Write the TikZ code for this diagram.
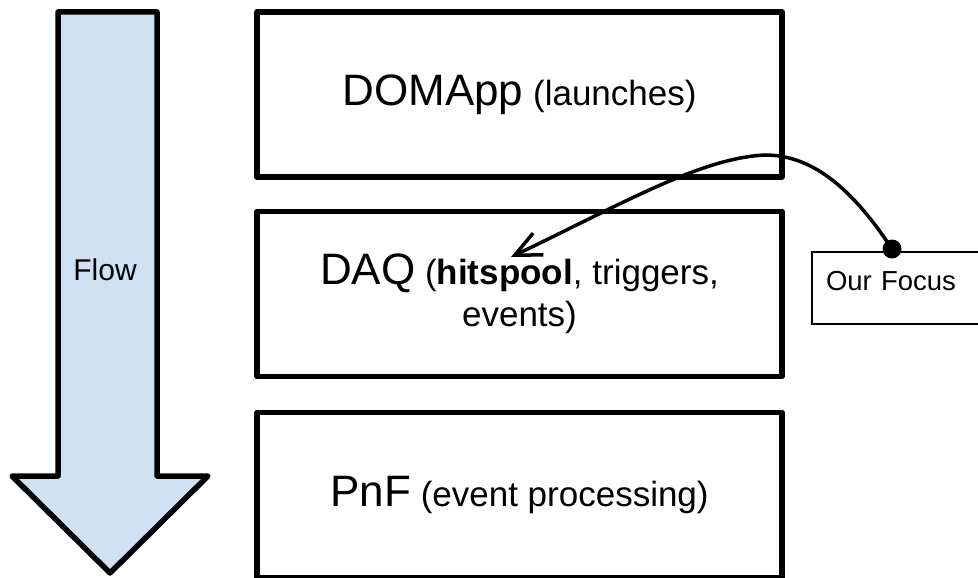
\documentclass[tikz,border=0pt]{standalone}
\usepackage{fontspec}
\setmainfont{Liberation Sans}
\usetikzlibrary{arrows.meta}
\definecolor{flowblue}{HTML}{CFE2F3}
\newcommand\stagename[1]{{\fontsize{44}{42}\selectfont #1}}
\begin{document}
\begin{tikzpicture}[x=1pt,y=-1pt,
  stage/.style={draw=black, line width=5.5pt, line join=round,
    minimum width=525pt, minimum height=165pt, inner sep=0pt,
    align=center, font=\fontsize{35}{42}\selectfont},
  note/.style={draw=black, line width=2pt, anchor=west,
    minimum width=168pt, minimum height=72pt, inner xsep=14pt,
    text width=140pt, text depth=14pt, align=left,
    font=\fontsize{27.5}{30}\selectfont},
  pointer/.style={line width=3.5pt, -{Straight Barb[length=26pt,width=24pt,line width=3.5pt]}}]
\useasboundingbox (0,0) rectangle (978,578);

% big downward flow arrow
\draw[line width=5.5pt, line join=round, fill=flowblue]
  (58,12) -- (157,12) -- (157,476) -- (208,476) -- (110,573)
  -- (12,476) -- (58,476) -- cycle;
\node[font=\fontsize{30}{32}\selectfont, anchor=base] (flow) at (105,280) {Flow};

% processing stages
\node[stage] (domapp) at (519.5,94.5) {\stagename{DOMApp} (launches)};
\node[stage] (daq) at (519.5,294) 
  {\stagename{DAQ} (\textbf{hitspool}, triggers,\\ events)};
\node[stage] (pnf) at (519.5,495) {\stagename{PnF} (event processing)};

% callout
\node[note] (focus) at (811,287.5) {Our Focus};
\coordinate (pin) at (892,249);
\coordinate (peak) at (765,155);
\coordinate (target) at (511,257);
\fill (pin) circle (9.5pt);
\draw[pointer] (pin) .. controls (850,185) and (810,155) .. (peak)
  .. controls (700,158) and (620,205) .. (target);
\end{tikzpicture}
\end{document}
